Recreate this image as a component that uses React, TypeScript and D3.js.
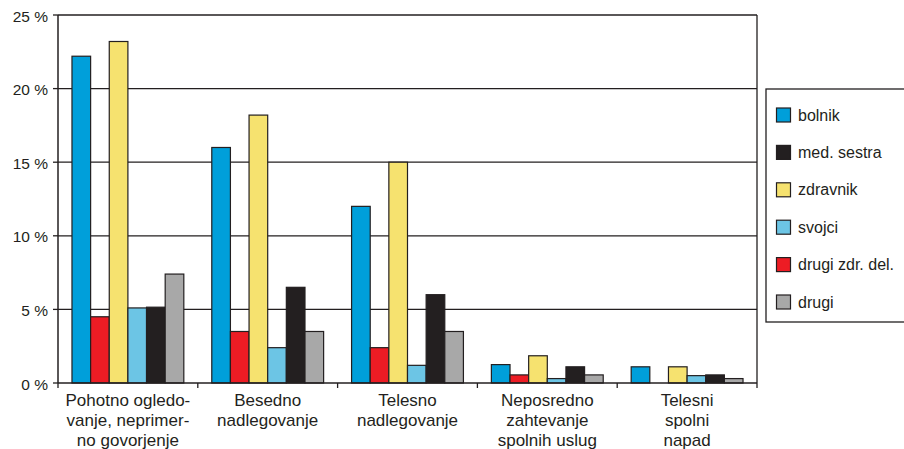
import React, { useEffect, useRef } from 'react';
import * as d3 from 'd3';

const categories = [
  ['Pohotno ogledo-', 'vanje, neprimer-', 'no govorjenje'],
  ['Besedno', 'nadlegovanje'],
  ['Telesno', 'nadlegovanje'],
  ['Neposredno', 'zahtevanje', 'spolnih uslug'],
  ['Telesni', 'spolni', 'napad'],
];

// bar order inside a group
const barOrder = ['bolnik', 'drugi zdr. del.', 'zdravnik', 'svojci', 'med. sestra', 'drugi'];
// legend order
const legendOrder = ['bolnik', 'med. sestra', 'zdravnik', 'svojci', 'drugi zdr. del.', 'drugi'];

const bolnik = [22.2, 16.0, 12.0, 1.25, 1.1];
const drugiZdr = [4.5, 3.5, 2.4, 0.55, 0];
const zdravnik = [23.2, 18.2, 15.0, 1.85, 1.1];
const svojci = [5.1, 2.4, 1.2, 0.3, 0.5];
const medSestra = [5.15, 6.5, 6.0, 1.1, 0.55];
const drugi = [7.4, 3.5, 3.5, 0.55, 0.3];

const yTicks = [0, 5, 10, 15, 20, 25];

const seriesValues: Record<string, number[]> = {
  'bolnik': bolnik,
  'drugi zdr. del.': drugiZdr,
  'zdravnik': zdravnik,
  'svojci': svojci,
  'med. sestra': medSestra,
  'drugi': drugi,
};

const colors: Record<string, string> = {
  'bolnik': '#009fda',
  'drugi zdr. del.': '#ed1c24',
  'zdravnik': '#f6e26f',
  'svojci': '#6cc5e5',
  'med. sestra': '#231f20',
  'drugi': '#a8a8a8',
};

const ink = '#231f20';
const font = '"Liberation Sans", Arial, Helvetica, sans-serif';

export default function App() {
  const ref = useRef<SVGSVGElement>(null);

  useEffect(() => {
    const svg = d3.select(ref.current);
    svg.selectAll('*').remove();

    const left = 58, right = 757, top = 15, bottom = 383;

    const x0 = d3.scaleBand<number>()
      .domain(categories.map((_, i) => i))
      .range([left, right])
      .padding(0);

    const bw = x0.bandwidth();
    const x1 = d3.scaleBand<string>()
      .domain(barOrder)
      .range([bw * 0.1, bw * 0.9])
      .padding(0);

    const y = d3.scaleLinear().domain([0, 25]).range([bottom, top]);

    // gridlines
    svg.append('g')
      .selectAll('line')
      .data(yTicks.filter(t => t > 0))
      .enter().append('line')
      .attr('x1', left).attr('x2', right)
      .attr('y1', d => y(d)).attr('y2', d => y(d))
      .attr('stroke', ink).attr('stroke-width', 1.3);

    // right border
    svg.append('line')
      .attr('x1', right).attr('x2', right)
      .attr('y1', top).attr('y2', bottom)
      .attr('stroke', ink).attr('stroke-width', 1.3);

    // bars
    categories.forEach((_, ci) => {
      const g = svg.append('g').attr('transform', `translate(${x0(ci)},0)`);
      barOrder.forEach(s => {
        const v = seriesValues[s][ci];
        if (v <= 0) return;
        g.append('rect')
          .attr('x', x1(s)!)
          .attr('y', y(v))
          .attr('width', x1.bandwidth())
          .attr('height', y(0) - y(v))
          .attr('fill', colors[s])
          .attr('stroke', ink)
          .attr('stroke-width', 1.2);
      });
    });

    // axes
    svg.append('line')
      .attr('x1', left).attr('x2', left)
      .attr('y1', top).attr('y2', bottom)
      .attr('stroke', ink).attr('stroke-width', 1.5);
    svg.append('line')
      .attr('x1', left).attr('x2', right)
      .attr('y1', bottom).attr('y2', bottom)
      .attr('stroke', ink).attr('stroke-width', 1.5);

    // y ticks
    const yt = svg.append('g');
    yTicks.forEach(t => {
      yt.append('line')
        .attr('x1', left - 5).attr('x2', left)
        .attr('y1', y(t)).attr('y2', y(t))
        .attr('stroke', ink).attr('stroke-width', 1.3);
      yt.append('text')
        .attr('x', 48).attr('y', y(t) + 6.5)
        .attr('text-anchor', 'end')
        .attr('font-family', font).attr('font-size', 15.5)
        .attr('fill', ink)
        .text(`${t} %`);
    });

    // x ticks at category boundaries
    const bounds = categories.map((_, i) => x0(i)!).concat([right]);
    bounds.forEach(b => {
      svg.append('line')
        .attr('x1', b).attr('x2', b)
        .attr('y1', bottom).attr('y2', bottom + 5)
        .attr('stroke', ink).attr('stroke-width', 1.3);
    });

    // category labels
    categories.forEach((lines, ci) => {
      const cx = x0(ci)! + bw / 2;
      svg.append('text')
        .attr('text-anchor', 'middle')
        .attr('font-family', font).attr('font-size', 17)
        .attr('fill', ink)
        .selectAll('tspan')
        .data(lines)
        .enter().append('tspan')
        .attr('x', cx)
        .attr('y', (d, i) => 405.5 + i * 20.3)
        .text(d => d);
    });

    // legend
    const lg = svg.append('g');
    lg.append('rect')
      .attr('x', 766).attr('y', 89)
      .attr('width', 150).attr('height', 233)
      .attr('fill', 'white')
      .attr('stroke', ink).attr('stroke-width', 1.3);
    legendOrder.forEach((s, i) => {
      const cy = 115 + i * 37.4;
      lg.append('rect')
        .attr('x', 776.5).attr('y', cy - 7)
        .attr('width', 14).attr('height', 14)
        .attr('fill', colors[s])
        .attr('stroke', ink).attr('stroke-width', 1.2);
      lg.append('text')
        .attr('x', 798).attr('y', cy + 5.5)
        .attr('font-family', font).attr('font-size', 16)
        .attr('fill', ink)
        .text(s);
    });
  }, []);

  return (
    <svg
      ref={ref}
      width={904}
      height={449}
      style={{ position: 'absolute', left: 0, top: 0, background: 'white' }}
    />
  );
}
